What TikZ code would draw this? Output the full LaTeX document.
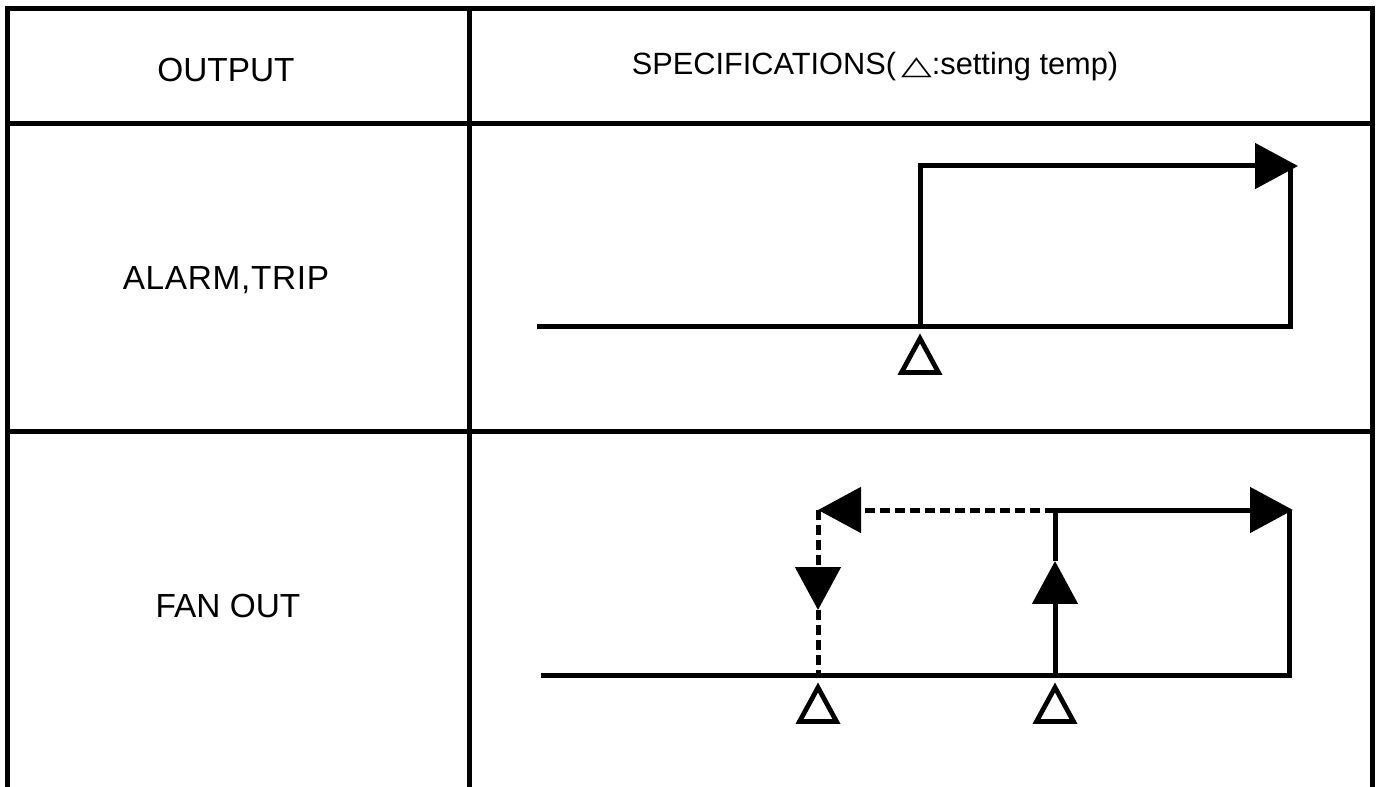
\documentclass[tikz,border=0pt]{standalone}
\usepackage{fontspec}
\usepackage{graphicx}
\setmainfont{Liberation Sans}
\newfontfamily\symfont{DejaVu Sans}
\usetikzlibrary{arrows.meta}

\begin{document}
\begin{tikzpicture}[x=0.02cm, y=-0.02cm,
	grid/.style={line width=0.1cm, line join=miter},
	wave/.style={line width=0.1cm, line join=miter},
	dashline/.style={dash pattern=on 0.2cm off 0.1cm},
	tip/.style={-{Triangle[length=0.86cm, width=0.9cm]}},
	txt/.style={anchor=base, inner sep=0pt, font=\fontsize{19}{21}\selectfont},
	setpt/.pic={\draw[line width=0.095cm, line join=miter] (0,12.5) -- (18.5,46.5) -- (-18.5,46.5) -- cycle;}]
	\useasboundingbox (0,0) rectangle (1376,787);

	% table
	\draw[grid] (7.5,787) -- (7.5,8.5) -- (1372,8.5) -- (1372,787);
	\draw[grid] (469.5,8.5) -- (469.5,787);
	\draw[grid] (7.5,124) -- (1372,124);
	\draw[grid] (7.5,431) -- (1372,431);

	% nodes
	\node[txt] (out) at (226,82) {OUTPUT};
	\node[txt, font=\fontsize{17.5}{20}\selectfont] (spec) at (875,75) {SPECIFICATIONS(\,{\symfont\scalebox{1.3}[0.85]{△}}:setting temp)};
	\node[txt] (alarm) at (226,290) {\addfontfeatures{LetterSpace=2}ALARM,TRIP};
	\node[txt] (fan) at (228,617) {FAN OUT};

	% alarm, trip
	\coordinate (a0) at (537,326);
	\coordinate (a1) at (920,326);
	\coordinate (a2) at (1290,326);
	\coordinate (a3) at (920,166);
	\coordinate (a4) at (1298,166);
	\draw[wave] (a0) -- (a2) -- (a2 |- a3);
	\draw[wave, tip] (a1) -- (a3) -- (a4);
	\pic at (a1) {setpt};

	% fan out
	\coordinate (b0) at (541,675);
	\coordinate (b1) at (818,675);
	\coordinate (b2) at (1055,675);
	\coordinate (b3) at (1289,675);
	\coordinate (b4) at (818,510);
	\coordinate (b5) at (1055,510);
	\coordinate (b6) at (1293,510);
	\coordinate (b7) at (818,610);
	\coordinate (b8) at (1055,561);
	\draw[wave] (b0) -- (b3) -- (b3 |- b5);
	\draw[wave, tip] (b2) -- (b8);
	\draw[wave, tip] (b8) -- (b5) -- (b6);
	\draw[wave, dashline, tip] (b5) -- (b4);
	\draw[wave, dashline, tip] (b4) -- (b7);
	\draw[wave, dashline] (b7) -- (b1);
	\pic at (b1) {setpt};
	\pic at (b2) {setpt};
\end{tikzpicture}
\end{document}
